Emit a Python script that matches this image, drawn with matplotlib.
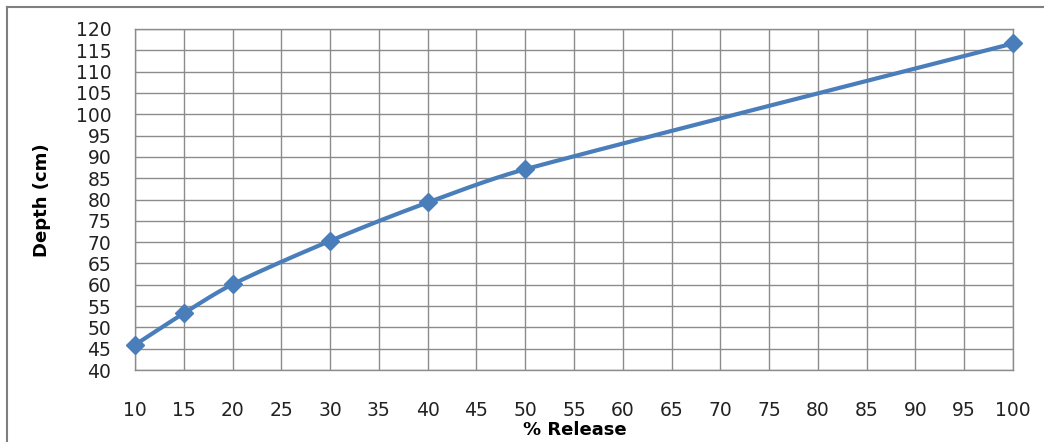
import numpy as np
import matplotlib

matplotlib.use("Agg")
import matplotlib.pyplot as plt
from matplotlib.lines import Line2D

# data
release_pct = [10, 15, 20, 30, 40, 50, 100]
depth_cm = [45.9, 53.3, 60.1, 70.3, 79.3, 87.1, 116.6]

x_ticks = list(range(10, 101, 5))
y_ticks = list(range(40, 121, 5))

LINE_BLUE = "#4a7ebb"
GRID_GREY = "#8c8c8c"


def _excel_smooth(xs, ys, steps=40):
    """Bezier smoothing close to Excel's 'smoothed line'.

    Catmull-Rom tangents (1/6), with each control handle kept within a third
    of its own segment so uneven x spacing doesn't make kinks.
    """
    px = np.asarray(xs, dtype=float)
    py = np.asarray(ys, dtype=float)
    n = len(px)
    out_x, out_y = [], []
    t = np.linspace(0, 1, steps)
    for i in range(n - 1):
        i0 = max(i - 1, 0)
        i3 = min(i + 2, n - 1)
        seg = px[i + 1] - px[i]
        d1 = np.array([px[i + 1] - px[i0], py[i + 1] - py[i0]]) / 6
        d2 = np.array([px[i3] - px[i], py[i3] - py[i]]) / 6
        if d1[0] > seg / 3:
            d1 *= (seg / 3) / d1[0]
        if d2[0] > seg / 3:
            d2 *= (seg / 3) / d2[0]
        c1x, c1y = px[i] + d1[0], py[i] + d1[1]
        c2x, c2y = px[i + 1] - d2[0], py[i + 1] - d2[1]
        bx = ((1 - t) ** 3 * px[i] + 3 * (1 - t) ** 2 * t * c1x
              + 3 * (1 - t) * t ** 2 * c2x + t ** 3 * px[i + 1])
        by = ((1 - t) ** 3 * py[i] + 3 * (1 - t) ** 2 * t * c1y
              + 3 * (1 - t) * t ** 2 * c2y + t ** 3 * py[i + 1])
        out_x.extend(bx)
        out_y.extend(by)
    return out_x, out_y


plt.rcParams["font.family"] = ["DejaVu Sans"]

W, H = 1044, 442
fig = plt.figure(figsize=(W / 100, H / 100), dpi=100)
ax = fig.add_axes([135 / W, 1 - 370 / H, (1013 - 135) / W, (370 - 29) / H])

sx, sy = _excel_smooth(release_pct, depth_cm)
ax.plot(sx, sy, color=LINE_BLUE, lw=3.0, solid_capstyle="round", zorder=3)
ax.plot(release_pct, depth_cm, ls="none", marker="D", ms=9, color=LINE_BLUE,
        clip_on=False, zorder=4)

ax.set_xlim(10, 100)
ax.set_ylim(40, 120)
ax.set_xticks(x_ticks)
ax.set_yticks(y_ticks)
ax.grid(True, color=GRID_GREY, lw=1)
ax.set_axisbelow(True)
for sp in ax.spines.values():
    sp.set_color(GRID_GREY)
    sp.set_linewidth(1)
ax.tick_params(length=0, labelsize=13.5, colors="#222222")
ax.tick_params(axis="x", pad=22)
ax.tick_params(axis="y", pad=17)

ax.set_xlabel("% Release", fontsize=13, fontweight="bold", va="center")
ax.set_ylabel("Depth (cm)", fontsize=13, fontweight="bold", va="center")
ax.xaxis.set_label_coords((575 - 135) / 878, -(430 - 370) / 341)
ax.yaxis.set_label_coords((42 - 135) / 878, (370 - 200) / 341)

# chart border (only top and left visible in the crop)
fig.add_artist(Line2D([7 / W, 7 / W], [0, 1 - 7 / H], transform=fig.transFigure,
                      color="#7f7f7f", lw=1.5))
fig.add_artist(Line2D([7 / W, 1], [1 - 7 / H, 1 - 7 / H], transform=fig.transFigure,
                      color="#7f7f7f", lw=1.5))

fig.savefig("out.png", dpi=100, facecolor="white")
